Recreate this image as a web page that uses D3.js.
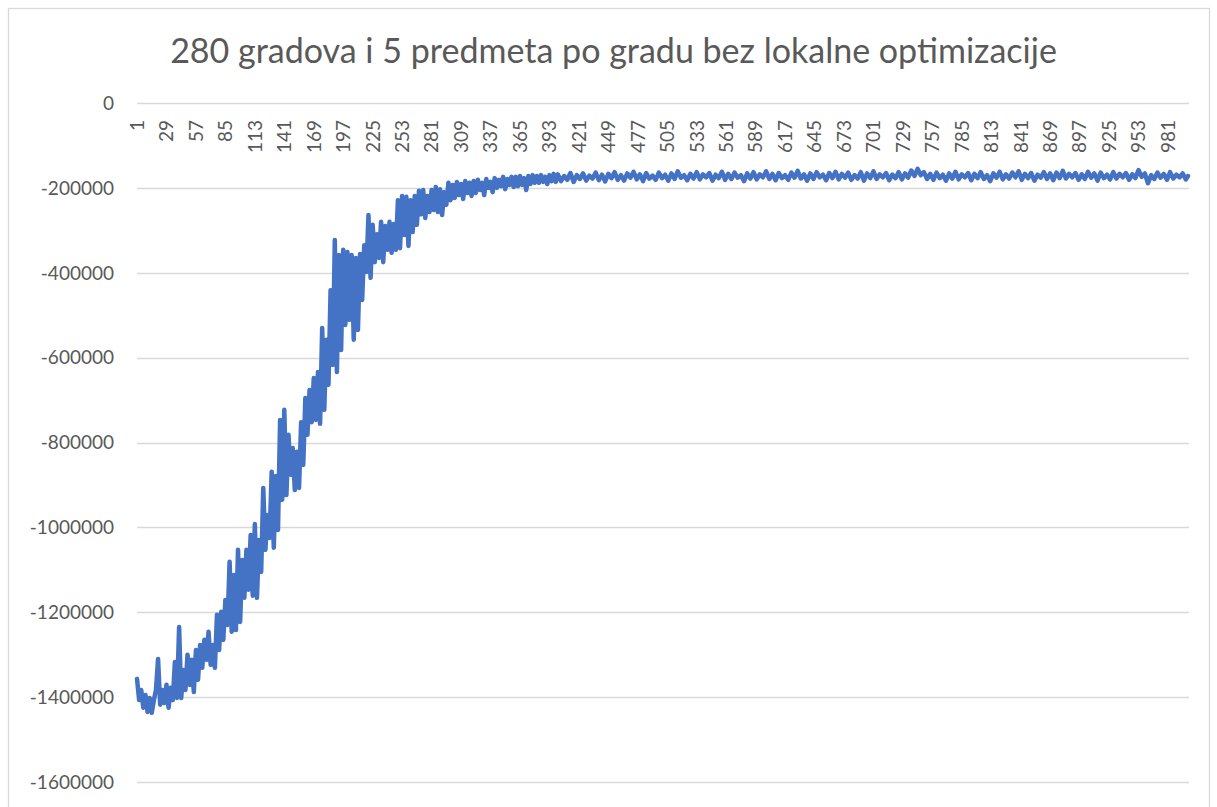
<!DOCTYPE html>
<html>
<head>
<meta charset="utf-8">
<script src="https://cdn.jsdelivr.net/npm/d3@7"></script>
<style>
  body { margin: 0; background: #ffffff; }
</style>
</head>
<body>
<div id="paper"></div>
<script>
const chartTitle = "280 gradova i 5 predmeta po gradu bez lokalne optimizacije";
const yTicks = [0, -200000, -400000, -600000, -800000, -1000000, -1200000, -1400000, -1600000];
const xTickLabels = [1, 29, 57, 85, 113, 141, 169, 197, 225, 253, 281, 309, 337, 365, 393, 421, 449, 477,
  505, 533, 561, 589, 617, 645, 673, 701, 729, 757, 785, 813, 841, 869, 897, 925, 953, 981];
const nIterations = 1000;

// iterations 1, 3, 5 ... 399 (noisy climb, read every 2nd iteration)
const earlyStart = 1, earlyStep = 2;
const fitnessEarly = [
  -1357000, -1407000, -1383000, -1425000, -1395000, -1435000, -1402000, -1437000, -1407000, -1383000,
  -1310000, -1418000, -1383000, -1414000, -1371000, -1425000, -1378000, -1407000, -1317000, -1402000,
  -1235000, -1402000, -1336000, -1383000, -1300000, -1371000, -1312000, -1388000, -1289000, -1359000,
  -1277000, -1331000, -1265000, -1312000, -1246000, -1324000, -1277000, -1331000, -1206000, -1289000,
  -1199000, -1265000, -1171000, -1230000, -1081000, -1246000, -1112000, -1242000, -1053000, -1223000,
  -1077000, -1166000, -1053000, -1147000, -1018000, -1161000, -992000, -1166000, -1030000, -1105000,
  -907000, -1053000, -971000, -1025000, -869000, -1048000, -879000, -1006000, -747000, -935000,
  -723000, -924000, -782000, -876000, -813000, -912000, -822000, -907000, -752000, -853000,
  -695000, -782000, -676000, -752000, -648000, -747000, -634000, -756000, -530000, -723000,
  -558000, -664000, -441000, -617000, -323000, -634000, -358000, -582000, -346000, -523000,
  -351000, -511000, -358000, -558000, -365000, -535000, -356000, -464000, -335000, -398000,
  -264000, -412000, -287000, -375000, -309000, -365000, -280000, -375000, -290000, -346000,
  -280000, -353000, -285000, -346000, -229000, -342000, -219000, -311000, -221000, -337000,
  -229000, -304000, -219000, -287000, -207000, -262000, -205000, -271000, -219000, -257000,
  -205000, -252000, -198000, -257000, -203000, -264000, -210000, -240000, -188000, -229000,
  -193000, -224000, -186000, -217000, -191000, -226000, -184000, -212000, -188000, -219000,
  -184000, -212000, -181000, -205000, -188000, -217000, -179000, -200000, -186000, -210000,
  -177000, -200000, -181000, -196000, -174000, -203000, -179000, -193000, -174000, -198000,
  -174000, -196000, -172000, -193000, -177000, -205000, -172000, -191000, -170000, -188000,
  -172000, -188000, -170000, -186000, -174000, -191000, -170000, -184000, -167000, -186000
];

// iterations 401, 404 ... 998 and 1000 (plateau, read every 3rd iteration)
const lateStart = 401, lateStep = 3;
const fitnessLate = [
  -168000, -184000, -172000, -181000, -165000, -186000, -170000, -179000, -166000, -183000,
  -171000, -178000, -164000, -182000, -169000, -185000, -167000, -177000, -163000, -181000,
  -170000, -183000, -166000, -176000, -162000, -180000, -168000, -184000, -165000, -178000,
  -171000, -181000, -164000, -177000, -169000, -183000, -166000, -179000, -161000, -176000,
  -170000, -182000, -167000, -178000, -163000, -180000, -168000, -175000, -165000, -183000,
  -169000, -177000, -162000, -181000, -167000, -179000, -164000, -176000, -170000, -184000,
  -166000, -178000, -163000, -180000, -168000, -175000, -161000, -179000, -167000, -182000,
  -165000, -177000, -170000, -181000, -164000, -176000, -160000, -178000, -168000, -183000,
  -166000, -179000, -163000, -175000, -169000, -182000, -165000, -177000, -162000, -180000,
  -167000, -176000, -164000, -181000, -170000, -178000, -163000, -183000, -166000, -177000,
  -161000, -179000, -168000, -175000, -165000, -182000, -169000, -177000, -163000, -180000,
  -166000, -176000, -159000, -172000, -155000, -170000, -163000, -179000, -167000, -181000,
  -164000, -177000, -169000, -183000, -166000, -178000, -162000, -180000, -168000, -175000,
  -165000, -182000, -167000, -177000, -163000, -179000, -170000, -184000, -166000, -176000,
  -162000, -180000, -168000, -178000, -164000, -175000, -161000, -181000, -167000, -177000,
  -165000, -183000, -169000, -176000, -163000, -179000, -166000, -182000, -164000, -177000,
  -160000, -178000, -167000, -175000, -165000, -181000, -168000, -179000, -162000, -176000,
  -166000, -183000, -164000, -177000, -169000, -180000, -163000, -178000, -167000, -175000,
  -165000, -181000, -168000, -177000, -158000, -174000, -166000, -189000, -170000, -179000,
  -164000, -176000, -167000, -181000, -163000, -178000, -169000, -175000, -166000, -180000,
  -172000
];

const points = fitnessEarly.map((v, i) => ({ it: earlyStart + i * earlyStep, v: v }))
  .concat(fitnessLate.map((v, i) => ({ it: Math.min(lateStart + i * lateStep, nIterations), v: v })));

const svg = d3.select("#paper")
  .append("svg")
  .attr("width", 1217)
  .attr("height", 807)
  .style("font-family", "Lato, 'Open Sans', sans-serif");

// chart area border
svg.append("rect")
  .attr("x", 8.5)
  .attr("y", 8.5)
  .attr("width", 1201)
  .attr("height", 820)
  .attr("fill", "#ffffff")
  .attr("stroke", "#d9d9d9")
  .attr("stroke-width", 1.3);

const x = d3.scaleBand()
  .domain(d3.range(1, nIterations + 1))
  .range([136.5, 1188.5]);
const bw = x.bandwidth();

const y = d3.scaleLinear()
  .domain([-1600000, 0])
  .range([782, 103]);

// gridlines
svg.selectAll(".grid")
  .data(yTicks)
  .join("line")
  .attr("class", "grid")
  .attr("x1", 137)
  .attr("x2", 1189)
  .attr("y1", d => Math.round(y(d)) + 0.5)
  .attr("y2", d => Math.round(y(d)) + 0.5)
  .attr("stroke", "#d9d9d9")
  .attr("stroke-width", 1.3);

// y labels
svg.selectAll(".ylab")
  .data(yTicks)
  .join("text")
  .attr("class", "ylab")
  .attr("x", 114)
  .attr("y", d => y(d))
  .attr("dy", "0.36em")
  .attr("text-anchor", "end")
  .attr("font-size", "19px")
  .attr("fill", "#595959")
  .text(d => d);

// x labels, rotated, hanging just under the 0 line
svg.selectAll(".xlab")
  .data(xTickLabels)
  .join("text")
  .attr("class", "xlab")
  .attr("transform", d => `translate(${x(d) + bw / 2},120) rotate(-90)`)
  .attr("dy", "0.36em")
  .attr("text-anchor", "end")
  .attr("font-size", "19px")
  .attr("fill", "#595959")
  .text(d => d);

const line = d3.line()
  .x(d => x(d.it) + bw / 2)
  .y(d => y(d.v));

svg.append("path")
  .datum(points)
  .attr("d", line)
  .attr("fill", "none")
  .attr("stroke", "#4472c4")
  .attr("stroke-width", 4.5)
  .attr("stroke-linejoin", "round")
  .attr("stroke-linecap", "round");

// title, fitted to the width it has in the original
const t = svg.append("text")
  .attr("x", 613.5)
  .attr("y", 63)
  .attr("text-anchor", "middle")
  .attr("font-size", "33px")
  .attr("fill", "#595959")
  .text(chartTitle);
const tw = t.node().getComputedTextLength();
t.attr("font-size", (33 * 887 / tw).toFixed(2) + "px");
</script>
</body>
</html>
